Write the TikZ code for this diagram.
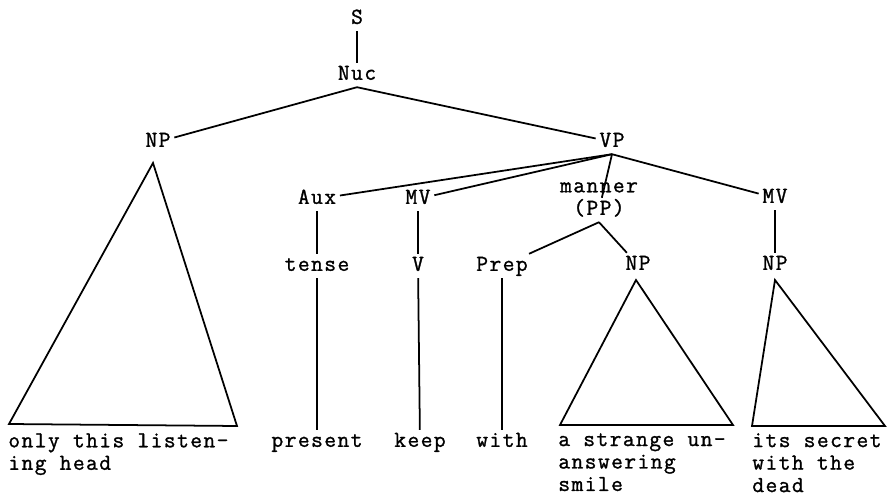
\documentclass[tikz,border=0pt]{standalone}
\usepackage{fontspec}
\newfontfamily\tyfont{Latin Modern Mono}[FakeBold=1.2,LetterSpace=6.3]
\newcommand{\tyset}{\tyfont\fontsize{13}{12.8}\selectfont}

\tikzset{
  lab/.style={font=\tyset,inner sep=2pt,text height=7.5pt,text depth=2pt},
  leaf/.style={font=\tyset,inner sep=0pt,anchor=north west,align=left},
  branch/.style={line width=1pt},
}

\begin{document}
\begin{tikzpicture}[x=0.02cm,y=-0.02cm]
\useasboundingbox (0,0) rectangle (893,496);

\node[lab] (s) at (357,19) {S};
\node[lab] (nuc) at (357,75) {Nuc};
\node[lab] (np1) at (158,142) {NP};
\node[lab] (vp) at (612,142) {VP};
\node[lab] (aux) at (317,199) {Aux};
\node[lab] (mv1) at (418,199) {MV};
\node[lab,align=center] (mpp) at (599,210) {manner\\(PP)};
\node[lab] (mv2) at (775,198) {MV};
\node[lab] (tense) at (317,266) {tense};
\node[lab] (v) at (418,266) {V};
\node[lab] (prep) at (502,266) {Prep};
\node[lab] (np2) at (638,265) {NP};
\node[lab] (np3) at (775,265) {NP};

\node[lab] (present) at (317,442) {present};
\node[lab] (keep) at (420,442) {keep};
\node[lab] (with) at (502,442) {with};
\node[leaf] (head) at (8,433) {only this listen-\\ing head};
\node[leaf] (smile) at (558,433) {a strange un-\\answering\\smile};
\node[leaf] (dead) at (752,433) {its secret\\with the\\dead};

% triangle corners
\coordinate (np1top) at (153,163);
\coordinate (np1bl) at (9,424);
\coordinate (np1br) at (237,426);
\coordinate (np2top) at (636,280);
\coordinate (np2bl) at (560,425);
\coordinate (np2br) at (733,425);
\coordinate (np3top) at (775,280);
\coordinate (np3bl) at (752,426);
\coordinate (np3br) at (885,426);

\draw[branch] (s) -- (nuc);
\draw[branch] (nuc.south) -- (np1);
\draw[branch] (nuc.south) -- (vp);
\draw[branch] (vp.south) -- (aux);
\draw[branch] (vp.south) -- (mv1);
\draw[branch] (vp.south) -- (mpp);
\draw[branch] (vp.south) -- (mv2);
\draw[branch] (aux) -- (tense);
\draw[branch] (mv1) -- (v);
\draw[branch] (mpp.south) -- (prep);
\draw[branch] (mpp.south) -- (np2);
\draw[branch] (mv2) -- (np3);
\draw[branch] (tense) -- (present);
\draw[branch] (v) -- (keep);
\draw[branch] (prep) -- (with);

\draw[branch] (np1top) -- (np1bl) -- (np1br) -- cycle;
\draw[branch] (np2top) -- (np2bl) -- (np2br) -- cycle;
\draw[branch] (np3top) -- (np3bl) -- (np3br) -- cycle;
\end{tikzpicture}
\end{document}
